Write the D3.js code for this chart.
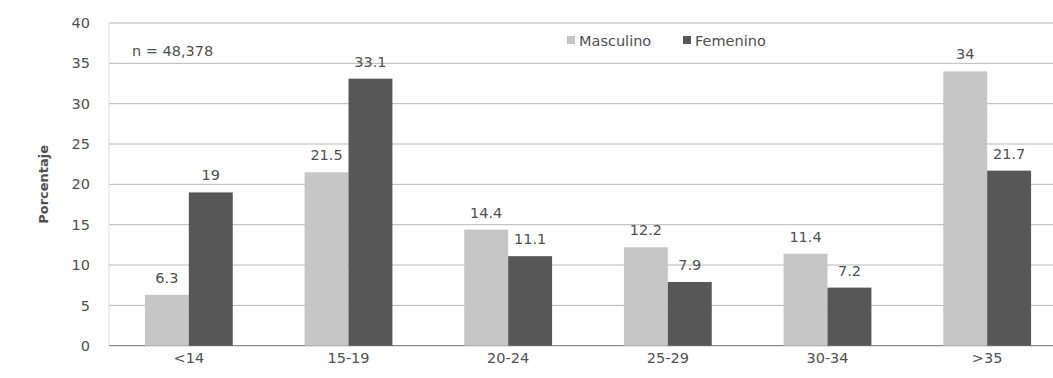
<!DOCTYPE html>
<html>
<head>
<meta charset="utf-8">
<script src="https://cdn.jsdelivr.net/npm/d3@7"></script>
<style>
  html, body { margin: 0; padding: 0; background: #fff; }
  svg { display: block; }
  text { font-family: "DejaVu Sans", "Liberation Sans", sans-serif; fill: #4d4d4d; }
</style>
</head>
<body>
<svg id="chart" width="1053" height="378"></svg>
<script>
// Distribución por grupo de edad y sexo (porcentaje)
const categories = ["<14", "15-19", "20-24", "25-29", "30-34", ">35"];
const seriesNames = ["Masculino", "Femenino"];
const masculino = [6.3, 21.5, 14.4, 12.2, 11.4, 34];
const femenino = [19, 33.1, 11.1, 7.9, 7.2, 21.7];
const yTicks = [0, 5, 10, 15, 20, 25, 30, 35, 40];
const sampleNote = "n = 48,378";

const colors = { Masculino: "#c6c6c6", Femenino: "#575757" };
const fontFamily = "\"DejaVu Sans\", sans-serif";
const textColor = "#505050";

const svg = d3.select("#chart");
const margin = { left: 109, top: 23 };
const plotRight = 1067;

const x = d3.scaleBand()
  .domain(categories)
  .range([margin.left, plotRight])
  .paddingInner(0.45)
  .paddingOuter(0.225);

const xs = d3.scaleBand()
  .domain(seriesNames)
  .range([0, x.bandwidth()]);

const y = d3.scaleLinear()
  .domain([0, 40])
  .range([345.7, margin.top]);

// Grid lines
svg.append("g")
  .selectAll("line")
  .data(yTicks)
  .join("line")
  .attr("x1", margin.left)
  .attr("x2", plotRight)
  .attr("y1", d => y(d))
  .attr("y2", d => y(d))
  .attr("stroke", d => d === 0 ? "#8a8a8a" : "#b0b0b0")
  .attr("stroke-width", d => d === 0 ? 1.2 : 0.9);

// Faint vertical axis line
svg.append("line")
  .attr("x1", margin.left).attr("x2", margin.left)
  .attr("y1", y(40)).attr("y2", y(0))
  .attr("stroke", "#d6d6d6").attr("stroke-width", 0.8);

// Y axis labels
const yAxis = d3.axisLeft(y).tickValues(yTicks).tickSize(0).tickPadding(19);
const gy = svg.append("g")
  .attr("transform", `translate(${margin.left},0)`)
  .call(yAxis);
gy.select(".domain").remove();
gy.selectAll("text")
  .style("font-size", "14.5px")
  .style("fill", textColor)
  .style("font-family", fontFamily);

// X axis labels
const xAxis = d3.axisBottom(x).tickSize(0).tickPadding(7);
const gx = svg.append("g")
  .attr("transform", `translate(0,${y(0)})`)
  .call(xAxis);
gx.select(".domain").remove();
gx.selectAll("text")
  .style("font-size", "14.5px")
  .style("fill", textColor)
  .style("font-family", fontFamily);

// Bars
const rows = categories.map((c, i) => ({
  cat: c,
  values: [
    { name: "Masculino", value: masculino[i] },
    { name: "Femenino", value: femenino[i] }
  ]
}));

const groups = svg.append("g")
  .selectAll("g")
  .data(rows)
  .join("g")
  .attr("transform", d => `translate(${x(d.cat)},0)`);

groups.selectAll("rect")
  .data(d => d.values)
  .join("rect")
  .attr("x", d => xs(d.name))
  .attr("width", xs.bandwidth())
  .attr("y", d => y(d.value))
  .attr("height", d => y(0) - y(d.value))
  .attr("fill", d => colors[d.name]);

// Value labels
groups.selectAll("text.val")
  .data(d => d.values)
  .join("text")
  .attr("class", "val")
  .attr("x", d => xs(d.name) + xs.bandwidth() / 2)
  .attr("y", d => y(d.value) - 12)
  .attr("text-anchor", "middle")
  .style("font-size", "14.5px")
  .style("fill", textColor)
  .text(d => d.value);

// Sample size note
svg.append("text")
  .attr("x", 132).attr("y", 56)
  .style("font-size", "14.5px")
  .style("fill", textColor)
  .text(sampleNote);

// Legend
const legendPos = [{ name: "Masculino", x: 567 }, { name: "Femenino", x: 683 }];
const lg = svg.append("g")
  .selectAll("g")
  .data(legendPos)
  .join("g")
  .attr("transform", d => `translate(${d.x},36)`);
lg.append("rect")
  .attr("width", 8).attr("height", 8)
  .attr("fill", d => colors[d.name]);
lg.append("text")
  .attr("x", 12).attr("y", 9.5)
  .style("font-size", "14.5px")
  .style("fill", textColor)
  .text(d => d.name);

// Y axis title
svg.append("text")
  .attr("transform", `translate(48,${(y(0) + y(40)) / 2}) rotate(-90)`)
  .attr("text-anchor", "middle")
  .style("font-size", "13px")
  .style("font-weight", "bold")
  .style("fill", textColor)
  .text("Porcentaje");
</script>
</body>
</html>
